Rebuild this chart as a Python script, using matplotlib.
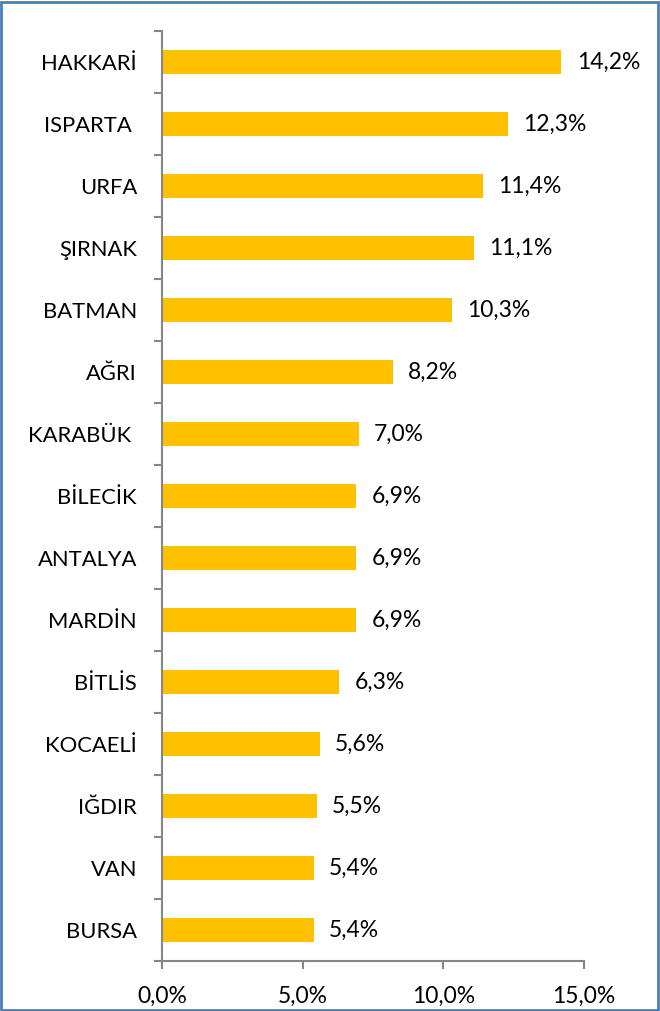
import matplotlib
matplotlib.use("Agg")
import matplotlib.pyplot as plt
from matplotlib.ticker import FixedLocator, FuncFormatter
from matplotlib.patches import Rectangle
import numpy as np

categories = ["HAKKARİ", "ISPARTA ", "URFA", "ŞIRNAK", "BATMAN", "AĞRI", "KARABÜK ",
              "BİLECİK", "ANTALYA", "MARDİN", "BİTLİS", "KOCAELİ", "IĞDIR", "VAN", "BURSA"]
values = [14.2, 12.3, 11.4, 11.1, 10.3, 8.2, 7.0, 6.9, 6.9, 6.9, 6.3, 5.6, 5.5, 5.4, 5.4]
xticks = [0, 5, 10, 15]

plt.rcParams['font.family'] = ['Lato', 'DejaVu Sans']
W, H = 660, 1011
fig = plt.figure(figsize=(W / 100, H / 100), dpi=100)
ax = fig.add_axes([162 / W, 1 - 961 / H, (584 - 162) / W, (961 - 31) / H])

n = len(categories)
y = np.arange(n)
ax.barh(y, values, height=0.39, color="#FFC000")
ax.set_ylim(n - 0.5, -0.5)
ax.set_xlim(0, 15)

gray = "#868686"
for s in ["top", "right"]:
    ax.spines[s].set_visible(False)
for s in ["left", "bottom"]:
    ax.spines[s].set_color(gray)
    ax.spines[s].set_linewidth(1.5)

ax.set_yticks(y)
ax.set_yticklabels(categories, fontsize=15.8)
ax.tick_params(axis="y", which="major", length=0, pad=18)
ax.yaxis.set_minor_locator(FixedLocator(np.arange(-0.5, n, 1.0)))
ax.tick_params(axis="y", which="minor", length=6, width=1.5, color=gray, direction="out")

ax.xaxis.set_major_locator(FixedLocator(xticks))
ax.xaxis.set_major_formatter(FuncFormatter(lambda v, p: f"{v:.1f}%".replace(".", ",")))
ax.tick_params(axis="x", which="major", length=6, width=1.5, color=gray, direction="out",
               labelsize=16.5, pad=12)

for yi, v in zip(y, values):
    ax.annotate(f"{v:.1f}%".replace(".", ","), (v, yi), xytext=(11, 0),
                textcoords="offset points", va="center", ha="left", fontsize=16.5)

fig.patches.append(Rectangle((1 / W, 1 / H), (W - 3) / W, (H - 3) / H, transform=fig.transFigure,
                             fill=False, edgecolor="#4A7EBB", linewidth=2))
fig.savefig("out.png", dpi=100)
